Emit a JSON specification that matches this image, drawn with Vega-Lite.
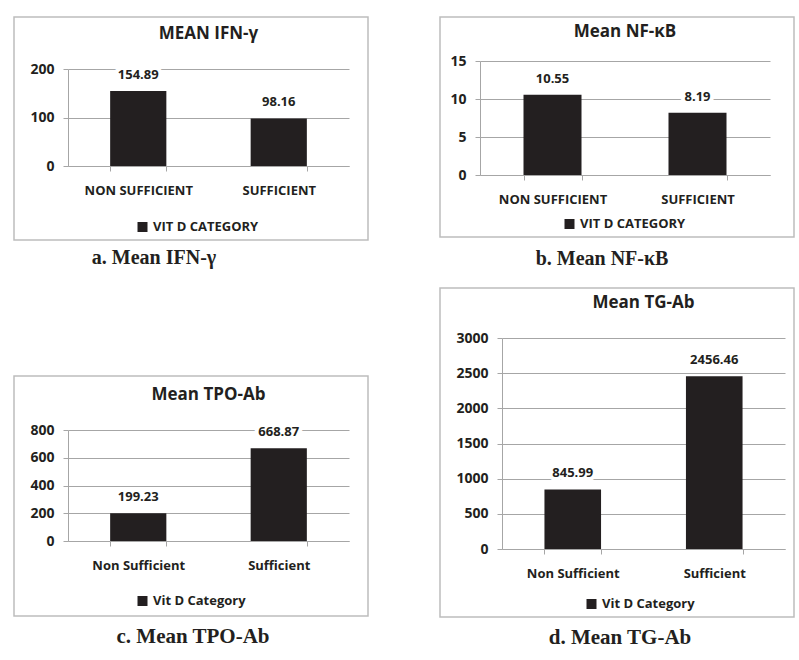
{
  "$schema": "https://vega.github.io/schema/vega-lite/v6.json",
  "background": "white",
  "padding": {"left": 13, "top": 16, "right": 5, "bottom": 5},
  "spacing": 70,
  "resolve": {"scale": {"color": "independent"}, "legend": {"color": "independent"}},
  "hconcat": [
    {
      "spacing": 107,
      "resolve": {"scale": {"color": "independent"}, "legend": {"color": "independent"}},
      "vconcat": [
        {
          "spacing": 0,
          "resolve": {"scale": {"color": "independent"}, "legend": {"color": "independent"}},
          "title": {"text": "a. Mean IFN-γ", "orient": "bottom", "anchor": "middle", "baseline": "middle", "offset": 17, "dx": -37, "font": "Liberation Serif", "fontSize": 20, "fontWeight": "bold", "color": "#231f20"},
          "vconcat": [
            {
              "width": 354, "height": 223,
              "data": {"values": [
                {"category": "NON SUFFICIENT", "value": 154.89, "series": "VIT D CATEGORY"},
                {"category": "SUFFICIENT", "value": 98.16, "series": "VIT D CATEGORY"}
              ]},
              "title": {"text": "MEAN IFN-γ", "anchor": "middle", "baseline": "middle", "offset": -17, "dy": 17, "dx": 17.5, "font": "Open Sans", "fontSize": 17, "fontWeight": "bold", "color": "#231f20"},
              "encoding": {
                "x": {"field": "category", "type": "nominal", "sort": null,
                  "scale": {"range": [54, 335], "paddingInner": 0.6, "paddingOuter": 0.3},
                  "axis": {"offset": -74, "tickBand": "extent", "title": null, "labelAngle": 0, "labelPadding": 13, "tickSize": 5, "labelFontSize": 13}},
                "y": {"field": "value", "type": "quantitative",
                  "scale": {"domain": [0, 200], "range": [149, 52], "nice": false},
                  "axis": {"offset": -54, "values": [0, 100, 200], "format": "d", "title": null, "grid": true, "labelPadding": 9, "tickSize": 5, "labelFontSize": 14}}
              },
              "layer": [
                {"mark": {"type": "bar"},
                 "encoding": {"color": {"field": "series", "type": "nominal", "scale": {"range": ["#231f20"]},
                   "legend": {"orient": "none", "legendX": 122, "legendY": 203.5}}}},
                {"mark": {"type": "text", "dy": -16, "baseline": "middle", "fill": "white", "stroke": "white", "strokeWidth": 8, "strokeJoin": "round"},
                 "encoding": {"text": {"field": "value", "type": "quantitative", "format": ".2f"}}},
                {"mark": {"type": "text", "dy": -16, "baseline": "middle", "fill": "#231f20"},
                 "encoding": {"text": {"field": "value", "type": "quantitative", "format": ".2f"}}}
              ]
            }
          ]
        },
        {
          "spacing": 0,
          "resolve": {"scale": {"color": "independent"}, "legend": {"color": "independent"}},
          "title": {"text": "c. Mean TPO-Ab", "orient": "bottom", "anchor": "middle", "baseline": "middle", "offset": 20, "dx": 2, "font": "Liberation Serif", "fontSize": 21, "fontWeight": "bold", "color": "#231f20"},
          "vconcat": [
            {
              "width": 354, "height": 240,
              "data": {"values": [
                {"category": "Non Sufficient", "value": 199.23, "series": "Vit D Category"},
                {"category": "Sufficient", "value": 668.87, "series": "Vit D Category"}
              ]},
              "title": {"text": "Mean TPO-Ab", "anchor": "middle", "baseline": "middle", "offset": -18, "dy": 18, "dx": 17.5, "font": "Open Sans", "fontSize": 17, "fontWeight": "bold", "color": "#231f20"},
              "encoding": {
                "x": {"field": "category", "type": "nominal", "sort": null,
                  "scale": {"range": [54, 335], "paddingInner": 0.6, "paddingOuter": 0.3},
                  "axis": {"offset": -75, "tickBand": "extent", "title": null, "labelAngle": 0, "labelPadding": 13, "tickSize": 5, "labelFontSize": 13}},
                "y": {"field": "value", "type": "quantitative",
                  "scale": {"domain": [0, 800], "range": [165, 54], "nice": false},
                  "axis": {"offset": -54, "values": [0, 200, 400, 600, 800], "format": "d", "title": null, "grid": true, "labelPadding": 9, "tickSize": 5, "labelFontSize": 14}}
              },
              "layer": [
                {"mark": {"type": "bar"},
                 "encoding": {"color": {"field": "series", "type": "nominal", "scale": {"range": ["#231f20"]},
                   "legend": {"orient": "none", "legendX": 122, "legendY": 218.5}}}},
                {"mark": {"type": "text", "dy": -16, "baseline": "middle", "fill": "white", "stroke": "white", "strokeWidth": 8, "strokeJoin": "round"},
                 "encoding": {"text": {"field": "value", "type": "quantitative", "format": ".2f"}}},
                {"mark": {"type": "text", "dy": -16, "baseline": "middle", "fill": "#231f20"},
                 "encoding": {"text": {"field": "value", "type": "quantitative", "format": ".2f"}}}
              ]
            }
          ]
        }
      ]
    },
    {
      "spacing": 18,
      "resolve": {"scale": {"color": "independent"}, "legend": {"color": "independent"}},
      "vconcat": [
        {
          "spacing": 0,
          "resolve": {"scale": {"color": "independent"}, "legend": {"color": "independent"}},
          "title": {"text": "b. Mean NF-κB", "orient": "bottom", "anchor": "middle", "baseline": "middle", "offset": 21, "dx": -15, "font": "Liberation Serif", "fontSize": 20, "fontWeight": "bold", "color": "#231f20"},
          "vconcat": [
            {
              "width": 354, "height": 220,
              "data": {"values": [
                {"category": "NON SUFFICIENT", "value": 10.55, "series": "VIT D CATEGORY"},
                {"category": "SUFFICIENT", "value": 8.19, "series": "VIT D CATEGORY"}
              ]},
              "title": {"text": "Mean NF-κB", "anchor": "middle", "baseline": "middle", "offset": -16, "dy": 16, "dx": 8, "font": "Open Sans", "fontSize": 17, "fontWeight": "bold", "color": "#231f20"},
              "encoding": {
                "x": {"field": "category", "type": "nominal", "sort": null,
                  "scale": {"range": [40, 330], "paddingInner": 0.6, "paddingOuter": 0.3},
                  "axis": {"offset": -62, "tickBand": "extent", "title": null, "labelAngle": 0, "labelPadding": 13, "tickSize": 5, "labelFontSize": 13}},
                "y": {"field": "value", "type": "quantitative",
                  "scale": {"domain": [0, 15], "range": [158, 44], "nice": false},
                  "axis": {"offset": -40, "values": [0, 5, 10, 15], "format": "d", "title": null, "grid": true, "labelPadding": 9, "tickSize": 5, "labelFontSize": 14}}
              },
              "layer": [
                {"mark": {"type": "bar"},
                 "encoding": {"color": {"field": "series", "type": "nominal", "scale": {"range": ["#231f20"]},
                   "legend": {"orient": "none", "legendX": 123, "legendY": 200.5}}}},
                {"mark": {"type": "text", "dy": -16, "baseline": "middle", "fill": "white", "stroke": "white", "strokeWidth": 8, "strokeJoin": "round"},
                 "encoding": {"text": {"field": "value", "type": "quantitative", "format": ".2f"}}},
                {"mark": {"type": "text", "dy": -16, "baseline": "middle", "fill": "#231f20"},
                 "encoding": {"text": {"field": "value", "type": "quantitative", "format": ".2f"}}}
              ]
            }
          ]
        },
        {
          "spacing": 0,
          "resolve": {"scale": {"color": "independent"}, "legend": {"color": "independent"}},
          "title": {"text": "d. Mean TG-Ab", "orient": "bottom", "anchor": "middle", "baseline": "middle", "offset": 20, "dx": 3, "font": "Liberation Serif", "fontSize": 21, "fontWeight": "bold", "color": "#231f20"},
          "vconcat": [
            {
              "width": 354, "height": 329,
              "data": {"values": [
                {"category": "Non Sufficient", "value": 845.99, "series": "Vit D Category"},
                {"category": "Sufficient", "value": 2456.46, "series": "Vit D Category"}
              ]},
              "title": {"text": "Mean TG-Ab", "anchor": "middle", "baseline": "middle", "offset": -16, "dy": 16, "dx": 26.5, "font": "Open Sans", "fontSize": 17, "fontWeight": "bold", "color": "#231f20"},
              "encoding": {
                "x": {"field": "category", "type": "nominal", "sort": null,
                  "scale": {"range": [62, 345], "paddingInner": 0.6, "paddingOuter": 0.3},
                  "axis": {"offset": -68, "tickBand": "extent", "title": null, "labelAngle": 0, "labelPadding": 13, "tickSize": 5, "labelFontSize": 13}},
                "y": {"field": "value", "type": "quantitative",
                  "scale": {"domain": [0, 3000], "range": [261, 50], "nice": false},
                  "axis": {"offset": -62, "values": [0, 500, 1000, 1500, 2000, 2500, 3000], "format": "d", "title": null, "grid": true, "labelPadding": 9, "tickSize": 5, "labelFontSize": 14}}
              },
              "layer": [
                {"mark": {"type": "bar"},
                 "encoding": {"color": {"field": "series", "type": "nominal", "scale": {"range": ["#231f20"]},
                   "legend": {"orient": "none", "legendX": 145, "legendY": 309.5}}}},
                {"mark": {"type": "text", "dy": -16, "baseline": "middle", "fill": "white", "stroke": "white", "strokeWidth": 8, "strokeJoin": "round"},
                 "encoding": {"text": {"field": "value", "type": "quantitative", "format": ".2f"}}},
                {"mark": {"type": "text", "dy": -16, "baseline": "middle", "fill": "#231f20"},
                 "encoding": {"text": {"field": "value", "type": "quantitative", "format": ".2f"}}}
              ]
            }
          ]
        }
      ]
    }
  ],
  "config": {
    "font": "Open Sans",
    "view": {"stroke": "#bdbdbd", "strokeWidth": 1.5},
    "axis": {"domainColor": "#a6a6a6", "tickColor": "#a6a6a6", "gridColor": "#a6a6a6", "gridWidth": 1, "domainWidth": 1, "tickWidth": 1,
             "labelFont": "Open Sans", "labelFontWeight": "bold", "labelColor": "#231f20"},
    "legend": {"title": null, "direction": "horizontal", "symbolType": "square", "symbolSize": 100, "symbolStrokeWidth": 0, "symbolOpacity": 1,
               "labelFont": "Open Sans", "labelFontWeight": "bold", "labelFontSize": 13, "labelColor": "#231f20", "labelOffset": 4, "padding": 0},
    "text": {"font": "Open Sans", "fontWeight": "bold", "fontSize": 13},
    "bar": {"color": "#231f20"}
  }
}
